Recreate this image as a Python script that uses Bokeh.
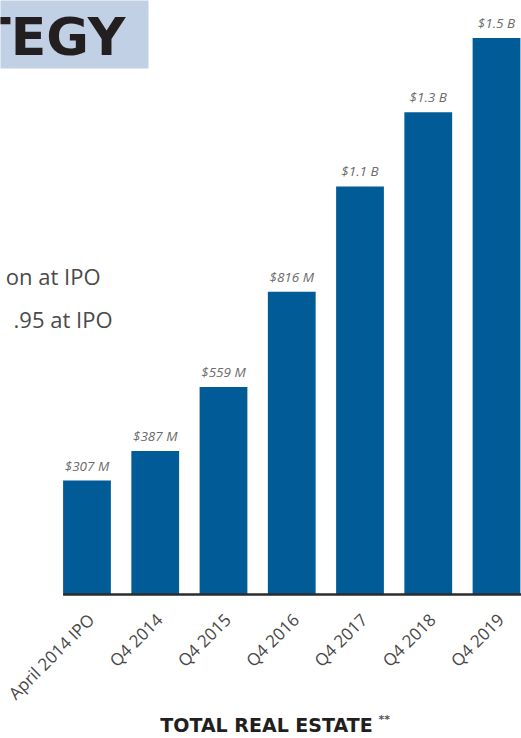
from math import pi
from bokeh.plotting import figure
from bokeh.models import (ColumnDataSource, Range1d, LabelSet, Label,
                          BoxAnnotation)
from bokeh.core.properties import value
from bokeh.embed import file_html
from bokeh.resources import INLINE

# ---- data ----
categories = ["April 2014 IPO", "Q4 2014", "Q4 2015", "Q4 2016",
              "Q4 2017", "Q4 2018", "Q4 2019"]
values_musd = [307, 387, 559, 816, 1100, 1300, 1500]
value_labels = ["$307 M", "$387 M", "$559 M", "$816 M",
                "$1.1 B", "$1.3 B", "$1.5 B"]
axis_title = "TOTAL REAL ESTATE"
axis_title_note = "**"
heading_fragment = "TEGY"
side_text_1 = "on at IPO"
side_text_2 = ".95 at IPO"

BAR = "#005b97"
BAR_W = 0.7
X_START, X_END = -1.267, 6.366
Y_START, Y_END = -388.1, 1601.1

idx = list(range(len(categories)))
src = ColumnDataSource(dict(x=idx, top=values_musd, label=value_labels,
                            cat=categories, base=[0] * len(idx)))

p = figure(width=521, height=738, output_backend="svg", toolbar_location=None,
           x_range=Range1d(X_START, X_END), y_range=Range1d(Y_START, Y_END),
           x_axis_location=None, y_axis_location=None,
           min_border_left=0, min_border_right=0, min_border_top=0,
           min_border_bottom=0)
p.outline_line_color = None
p.xgrid.visible = False
p.ygrid.visible = False
p.background_fill_color = "white"
p.border_fill_color = "white"

# bars
p.vbar(x="x", top="top", bottom=0, width=BAR_W, source=src,
       fill_color=BAR, line_color=None)

# baseline (category axis line)
p.segment(x0=-BAR_W / 2, y0=0, x1=X_END, y1=0,
          line_color="#2b2b2b", line_width=2.5)

# category tick labels, rotated
p.text(x="x", y="base", text="cat", source=src, angle=pi / 4,
       text_align="right", text_baseline="middle", x_offset=4, y_offset=22,
       text_font=value("Open Sans"), text_font_size=value("17px"),
       text_color="#484848")

# value labels above the bars
labels = LabelSet(x="x", y="top", text="label", source=src, y_offset=10,
                  text_align="center", text_baseline="alphabetic",
                  text_font=value("Open Sans"), text_font_style="italic",
                  text_font_size=value("13.5px"), text_color="#6b6b6b")
p.add_layout(labels)

# heading box fragment (cropped slide)
box = BoxAnnotation(left=-2, right=148, top=740, bottom=670,
                    left_units="screen", right_units="screen",
                    top_units="screen", bottom_units="screen",
                    fill_color="#c1d0e4", fill_alpha=1.0, line_color=None)
p.add_layout(box)
p.add_layout(Label(x=125, y=702, x_units="screen", y_units="screen",
                   text=heading_fragment, text_align="right",
                   text_baseline="alphabetic", text_font="DejaVu Sans",
                   text_font_style="bold", text_font_size="52px",
                   text_color="#231f20"))

# side text fragments
p.add_layout(Label(x=100, y=463, x_units="screen", y_units="screen",
                   text=side_text_1, text_align="right",
                   text_baseline="alphabetic", text_font="Open Sans",
                   text_font_size="22px", text_color="#4a4a4a"))
p.add_layout(Label(x=112, y=420, x_units="screen", y_units="screen",
                   text=side_text_2, text_align="right",
                   text_baseline="alphabetic", text_font="Open Sans",
                   text_font_size="22px", text_color="#4a4a4a"))

# axis title below
p.add_layout(Label(x=266, y=14, x_units="screen", y_units="screen",
                   text=axis_title, text_align="center",
                   text_baseline="alphabetic", text_font="DejaVu Sans",
                   text_font_style="bold", text_font_size="19px",
                   text_color="#231f20"))
p.add_layout(Label(x=378, y=19, x_units="screen", y_units="screen",
                   text=axis_title_note, text_align="left",
                   text_baseline="alphabetic", text_font="DejaVu Sans",
                   text_font_style="bold", text_font_size="11px",
                   text_color="#555555"))

open("out.html", "w").write(file_html(p, INLINE))
